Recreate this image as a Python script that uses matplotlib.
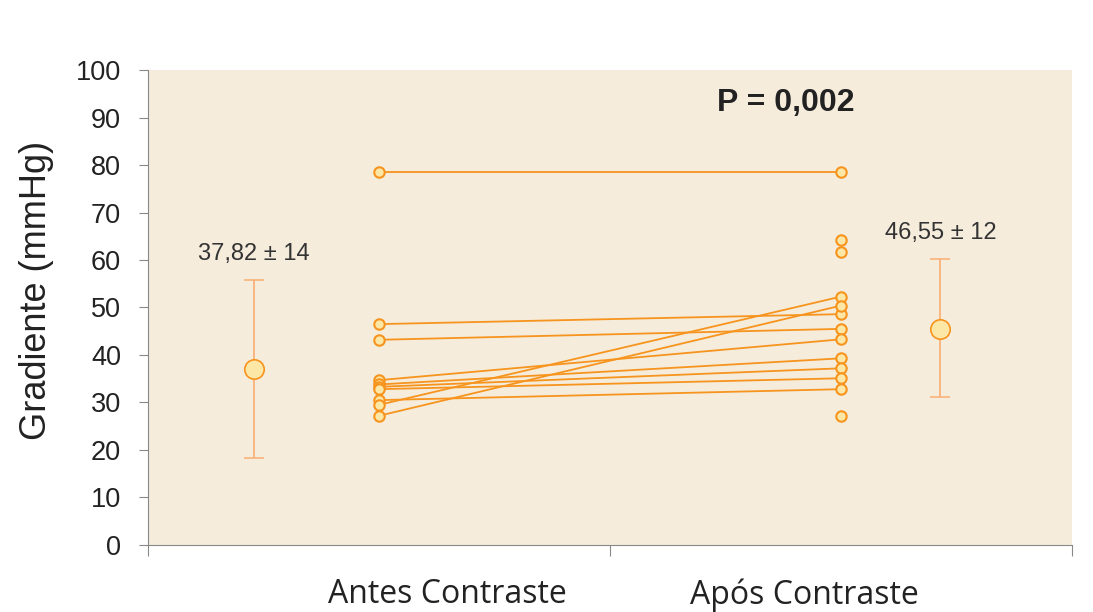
import numpy as np
import matplotlib
matplotlib.use('Agg')
from matplotlib import pyplot as plt

# data
antes = [78.5, 46.5, 43.2, 34.7, 33.8, 33.3, 32.8, 30.5, 29.5, 27.2]
apos = [78.5, 48.6, 45.5, 43.3, 39.3, 37.2, 35.1, 32.8, 52.3, 50.4]
apos_unpaired = [64.2, 61.7, 27.2]
group_x = [0.5, 1.5]
mean_x = [0.23, 1.715]
means = [37.0, 45.5]
err_low = [18.3, 31.2]
err_high = [55.8, 60.2]
mean_labels = ['37,82 \u00b1 14', '46,55 \u00b1 12']
categories = ['Antes Contraste', 'Ap\u00f3s Contraste']
cat_label_x = [0.647, 1.42]

orange = '#f7941d'
face = '#fde7a6'
bg = '#f5ecdc'

fig = plt.figure(figsize=(10.93, 6.12), dpi=100)
ax = fig.add_axes([0.1354, 0.1095, 0.8454, 0.7761])
ax.set_facecolor(bg)

# paired lines
for a, b in zip(antes, apos):
    ax.plot(group_x, [a, b], color=orange, lw=1.3, zorder=2)
ax.plot([group_x[0]] * len(antes), antes, 'o', ms=7.5, mfc=face, mec=orange, mew=1.5, zorder=3)
ax.plot([group_x[1]] * len(apos), apos, 'o', ms=7.5, mfc=face, mec=orange, mew=1.5, zorder=3)
ax.plot([group_x[1]] * len(apos_unpaired), apos_unpaired, 'o', ms=7.5, mfc=face, mec=orange, mew=1.5, zorder=3)

# mean +/- sd
m = np.array(means)
yerr = [m - np.array(err_low), np.array(err_high) - m]
ax.errorbar(mean_x, means, yerr=yerr, fmt='o', ms=14, mfc=face, mec=orange, mew=1.2,
            ecolor='#f9b27a', elinewidth=1.3, capsize=7, capthick=1.3, zorder=3)
for x, y, t in zip(mean_x, err_high, mean_labels):
    ax.text(x, y + 3.2, t, ha='center', va='bottom', fontsize=17, color='#333333',
            family='Liberation Sans')

ax.text(1.38, 93, 'P = 0,002', ha='center', va='center', fontsize=23, fontweight='bold',
        color='#222222', family='Liberation Sans')

ax.set_xlim(0, 2)
ax.set_ylim(0, 100)
ax.set_yticks(np.arange(0, 101, 10))
ax.set_xticks([0, 1, 2])
ax.set_xticklabels([])
for x, t in zip(cat_label_x, categories):
    ax.text(x, -10.5, t, ha='center', va='center', fontsize=23, color='#222222',
            family='Open Sans', clip_on=False)

for lab in ax.get_yticklabels():
    lab.set_family('Liberation Sans')
ax.tick_params(axis='y', labelsize=19.5, length=6.5, color='#888888', labelcolor='#222222', pad=13)
ax.tick_params(axis='x', length=8, color='#888888')
ax.spines['top'].set_visible(False)
ax.spines['right'].set_visible(False)
ax.spines['left'].set_color('#888888')
ax.spines['bottom'].set_color('#888888')
ax.set_ylabel('Gradiente (mmHg)', fontsize=26, family='Liberation Sans', color='#222222')
ax.yaxis.set_label_coords(-0.102, 0.535)

plt.savefig('out.png', dpi=100)
